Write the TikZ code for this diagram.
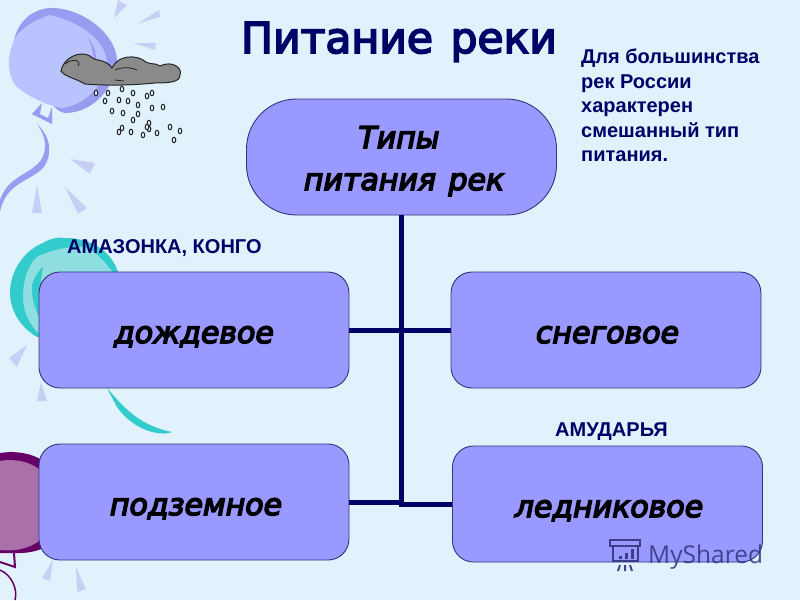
\documentclass[tikz,border=0pt]{standalone}
\usepackage{fontspec}
\setmainfont{Liberation Sans}
\newfontfamily\headfont[FakeBold=4]{DejaVu Sans}
\newfontfamily\boxfont[FakeBold=5]{DejaVu Sans Oblique}
\newfontfamily\markfont{Open Sans}
\newcommand\lowtext[1]{\raisebox{-13pt}[0pt][0pt]{#1}}
\definecolor{bgc}{HTML}{E1F2FD}
\definecolor{boxc}{HTML}{9999FF}
\definecolor{edgec}{HTML}{333380}
\definecolor{linec}{HTML}{000066}
\definecolor{rayc}{HTML}{C8CFF5}
\definecolor{bluerim}{HTML}{9A9CF2}
\definecolor{bluebody}{HTML}{B9C4FF}
\definecolor{tealrim}{HTML}{33CCCC}
\definecolor{tealbody}{HTML}{8FDFE0}
\definecolor{purprim}{HTML}{660066}
\definecolor{purpbody}{HTML}{A970A9}
\definecolor{cloudc}{HTML}{8A8A8A}
\tikzset{
  typebox/.style={draw=edgec,line width=0.9pt,fill=boxc,rounded corners=21pt,minimum width=310pt,minimum height=116pt,inner sep=0pt,align=center,font=\boxfont\fontsize{30}{42}\selectfont,text=black},
  topbox/.style={typebox,rounded corners=50pt},
  conn/.style={draw=linec,line width=5pt},
  note/.style={inner sep=0pt,anchor=north west,font=\bfseries\fontsize{20}{24.4}\selectfont,text=linec,align=left},
  tagtext/.style={inner sep=0pt,anchor=base west,font=\bfseries\fontsize{20}{24}\selectfont,text=linec},
  ray/.style={fill=rayc,draw=none},
  drop/.style={draw=black!85,line width=1pt,fill=bgc},
}
\begin{document}
\begin{tikzpicture}[x=1pt,y=-1pt]
\useasboundingbox (0,0) rectangle (800,600);
\fill[bgc] (0,0) rectangle (800,600);
% blue balloon
\fill[bluerim] (14,40) .. controls (20,15) and (40,7) .. (55,8) .. controls (85,10) and (116,35) .. (117,60) .. controls (116,85) and (95,113) .. (65,113) .. controls (50,112) and (30,70) .. (14,40) -- cycle;
\fill[bluebody] (14,40) .. controls (8,55) and (6,70) .. (15,85) .. controls (25,95) and (45,105) .. (62,108) .. controls (85,105) and (105,85) .. (107,62) .. controls (105,40) and (80,22) .. (50,15) .. controls (35,20) and (20,28) .. (14,40) -- cycle;
\fill[bluerim] (88,38) .. controls (98,50) and (98,62) .. (92,75) .. controls (95,62) and (94,50) .. (88,38) -- cycle;
\fill[bluerim] (42,103) -- (32,114) -- (52,124) -- (52,107) -- (48,118) -- (40,114) -- cycle;
\fill[bluerim] (37,124) .. controls (52,138) and (52,155) .. (44,167) .. controls (30,182) and (6,182) .. (0,212) -- (0,200) .. controls (8,176) and (30,175) .. (41,160) .. controls (47,150) and (47,138) .. (37,124) -- cycle;
\fill[ray] (118,0) -- (127,5) -- (114,18) -- cycle;
\fill[ray] (159,10) -- (137,24) -- (160,17) -- cycle;
\fill[ray] (133,43) -- (156,43) -- (155,50) -- cycle;
\fill[ray] (70,159) -- (95,163) -- (90,174) -- cycle;
\fill[ray] (37,185) -- (32,213) -- (42,213) -- cycle;
\fill[ray] (65,187) -- (87,208) -- (78,214) -- cycle;
% cloud
\draw[draw=black!85,line width=1pt,fill=cloudc] (61,71) .. controls (63,58) and (80,50) .. (90,56) .. controls (95,62) and (105,58) .. (112,68) .. controls (118,55) and (135,55) .. (143,60) .. controls (150,66) and (155,62) .. (160,66) .. controls (172,60) and (183,68) .. (180,75) .. controls (180,82) and (170,83) .. (155,83) .. controls (135,85) and (110,86) .. (85,84) .. controls (75,78) and (65,77) .. (61,71) -- cycle;
\draw[black!85,line width=0.8pt] (65,64) .. controls (72,58) and (82,60) .. (78,66) (115,70) .. controls (125,66) and (132,68) .. (137,70) (115,80) -- (124,81);
\foreach \a/\b in {96/93,108/93,122/89,133/93,147/96,152/93,105/101,119/100,128/101,138/105,152/108,163/107,112/111,123/113,133/120,138/114,149/123,149/129,119/132,122/128,131/132,147/127,157/133,143/135,170/127,180/131,174/140}
  \draw[drop] (\a,\b) ellipse [x radius=1.8pt,y radius=2.8pt];
% teal balloon
\fill[tealrim] (10,293) .. controls (10,270) and (25,250) .. (43,243) .. controls (50,238) and (60,237) .. (65,238) .. controls (90,238) and (112,250) .. (119,275) -- (119,340) -- (37,337) .. controls (20,327) and (10,310) .. (10,293) -- cycle;
\fill[tealbody] (23,297) .. controls (23,280) and (28,265) .. (37,257) .. controls (50,250) and (70,246) .. (83,247) .. controls (95,250) and (105,262) .. (115,275) -- (115,335) -- (38,333) .. controls (28,322) and (23,310) .. (23,297) -- cycle;
\fill[tealrim] (43,267) .. controls (34,275) and (31,285) .. (32,292) .. controls (33,305) and (37,313) .. (41,320) -- (41,280) -- cycle;
\fill[tealrim] (107,388) .. controls (118,400) and (135,425) .. (172,432) .. controls (160,437) and (133,430) .. (117,407) -- cycle;
\fill[ray] (27,345) -- (9,358) -- (17,367) -- cycle;
\fill[ray] (41,382) -- (37,401) -- (47,401) -- cycle;
% purple balloon
\fill[purprim] (0,453) .. controls (20,450) and (38,455) .. (48,465) -- (48,545) .. controls (35,555) and (15,553) .. (0,553) -- cycle;
\fill[purpbody] (0,461) .. controls (15,458) and (35,462) .. (45,475) -- (45,535) .. controls (35,548) and (15,552) .. (0,550) -- cycle;
\draw[purprim,line width=2pt] (0,562) -- (15,567) -- (14,553);
\draw[purprim,line width=1.5pt] (0,570) .. controls (12,575) and (18,590) .. (15,600);
\fill[ray] (53,560) -- (42,578) -- (50,581) -- cycle;
\fill[ray] (76,567) -- (77,592) -- (86,589) -- cycle;
% boxes
\node[topbox] (top) at (401.5,157) {\raisebox{-33pt}[0pt][0pt]{\begin{tabular}[b]{@{}c@{}}\hspace*{-5pt}Типы\\\hspace*{5pt}питания\hspace{3pt} рек\end{tabular}}};
\node[typebox] (rain) at (194,330) {\lowtext{дождевое}};
\node[typebox] (snow) at (606,330) {\lowtext{\hspace*{3pt}снеговое}};
\node[typebox] (ground) at (194,502) {\lowtext{\hspace*{4pt}подземное}};
\node[typebox] (ice) at (607.5,504) {\lowtext{\hspace*{3pt}ледниковое}};
% connectors
\coordinate (mid) at (top.south |- rain.east);
\coordinate (bot) at (top.south |- ice.west);
\draw[conn] (top.south) -- (bot);
\draw[conn] (rain.east) -- (snow.west);
\draw[conn] (ground.east) -- (ground.east -| top.south);
\draw[conn] (bot) ++(-2.5,0) -- (ice.west);
% texts
\node[inner sep=0pt,anchor=base,text=linec,font=\headfont\fontsize{42.5}{50}\selectfont] (title) at (399,53) {Питание\hspace{4pt} реки};
\node[note] (mixed) at (581,49) {Для большинства\\рек России\\характерен\\смешанный тип\\питания.};
\node[tagtext] (amazon) at (67,253) {АМАЗОНКА, КОНГО};
\node[tagtext] (amu) at (555,436) {АМУДАРЬЯ};
% watermark
\node[inner sep=0pt,anchor=base west,text=edgec,opacity=0.85,font=\markfont\fontsize{24.5}{30}\selectfont] (mark) at (648,563) {MyShared};
\begin{scope}[draw=edgec,line width=2pt,opacity=0.9]
\draw (610,540) -- (640,540) -- (640,546) -- (610,546) -- cycle;
\draw (613,546) -- (613,561) -- (638,561) -- (638,546);
\draw (620,565) -- (618,571) (625,565) -- (625,571) (630,565) -- (632,571);
\draw[line width=3pt] (620,559) -- (620,556) (626,559) -- (626,553) (632,559) -- (632,549);
\end{scope}
\end{tikzpicture}
\end{document}
